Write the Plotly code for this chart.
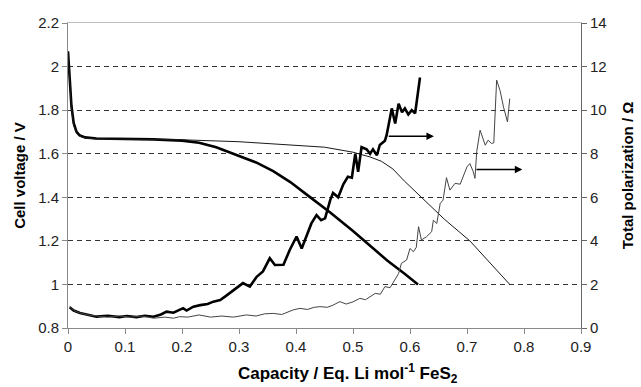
import plotly.graph_objects as go

# Discharge curves: cell voltage (V) vs capacity (Eq. Li / mol FeS2)
cap_v_thick = [0.0, 0.003, 0.006, 0.01, 0.015, 0.02, 0.03, 0.05, 0.1, 0.15, 0.2, 0.23, 0.26,
               0.29, 0.33, 0.36, 0.39, 0.42, 0.46, 0.5, 0.52, 0.56, 0.59, 0.614]
volt_thick = [2.07, 1.95, 1.82, 1.74, 1.70, 1.685, 1.675, 1.67, 1.668, 1.666, 1.66, 1.65, 1.63,
              1.60, 1.56, 1.52, 1.47, 1.41, 1.33, 1.245, 1.2, 1.11, 1.05, 1.0]

cap_v_thin = [0.0, 0.003, 0.006, 0.01, 0.015, 0.02, 0.03, 0.05, 0.1, 0.2, 0.3, 0.4, 0.45, 0.5,
              0.53, 0.55, 0.57, 0.59, 0.62, 0.66, 0.705, 0.74, 0.775]
volt_thin = [2.06, 1.94, 1.81, 1.73, 1.695, 1.68, 1.672, 1.668, 1.667, 1.664, 1.655, 1.64, 1.63,
             1.607, 1.585, 1.565, 1.53, 1.475, 1.40, 1.30, 1.2, 1.1, 1.0]

# Total polarization (Ohm) vs capacity
cap_r_thick = [0.003, 0.01, 0.021, 0.035, 0.05, 0.07, 0.09, 0.103, 0.12, 0.135, 0.15, 0.163,
               0.173, 0.185, 0.202, 0.208, 0.22, 0.232, 0.245, 0.255, 0.267, 0.276, 0.287,
               0.297, 0.307, 0.319, 0.331, 0.342, 0.354, 0.363, 0.378, 0.389, 0.401, 0.41,
               0.421, 0.427, 0.436, 0.444, 0.451, 0.46, 0.465, 0.474, 0.483, 0.491, 0.498,
               0.504, 0.509, 0.515, 0.524, 0.53, 0.535, 0.542, 0.547, 0.556, 0.559, 0.568,
               0.574, 0.58, 0.586, 0.591, 0.597, 0.603, 0.609, 0.612, 0.6175]
pol_thick = [0.95, 0.8, 0.69, 0.6, 0.52, 0.56, 0.5, 0.55, 0.5, 0.56, 0.52, 0.62,
             0.75, 0.7, 0.91, 0.8, 0.98, 1.05, 1.1, 1.21, 1.28, 1.45, 1.67,
             1.85, 2.06, 1.9, 2.35, 2.6, 3.2, 2.89, 2.9, 3.58, 4.2, 3.65,
             4.42, 4.8, 5.18, 4.95, 5.03, 5.87, 6.2, 6.0, 6.6, 6.94, 6.9,
             8.0, 7.17, 8.3, 8.2, 8.0, 8.2, 7.93, 8.4, 8.6, 8.85, 10.08,
             9.39, 10.3, 9.9, 10.08, 9.8, 10.0, 9.85, 10.5, 11.5]

cap_r_thin = [0.003, 0.01, 0.02, 0.035, 0.05, 0.07, 0.09, 0.11, 0.13, 0.15, 0.17, 0.185,
              0.196, 0.21, 0.23, 0.25, 0.27, 0.29, 0.313, 0.33, 0.345, 0.36, 0.375, 0.395,
              0.407, 0.42, 0.432, 0.442, 0.455, 0.465, 0.477, 0.488, 0.5, 0.512, 0.522,
              0.53, 0.539, 0.548, 0.556, 0.565, 0.571, 0.58, 0.585, 0.594, 0.6, 0.606,
              0.611, 0.615, 0.62, 0.629, 0.638, 0.641, 0.647, 0.653, 0.658, 0.664, 0.67,
              0.679, 0.688, 0.694, 0.7, 0.705, 0.711, 0.714, 0.717, 0.723, 0.732, 0.737,
              0.743, 0.747, 0.752, 0.758, 0.764, 0.771, 0.775]
pol_thin = [1.0, 0.8, 0.7, 0.6, 0.55, 0.5, 0.55, 0.5, 0.55, 0.45, 0.5, 0.45,
            0.52, 0.5, 0.6, 0.5, 0.55, 0.5, 0.6, 0.55, 0.65, 0.67, 0.62, 0.83,
            0.9, 0.85, 0.95, 0.98, 0.95, 1.05, 1.21, 1.1, 1.2, 1.36, 1.3,
            1.44, 1.59, 1.55, 1.9, 1.85, 2.12, 2.5, 2.97, 3.12, 3.65, 3.5,
            3.7, 4.65, 4.04, 4.19, 4.42, 4.95, 4.8, 5.72, 5.87, 6.9, 6.33,
            6.64, 6.6, 7.0, 7.4, 7.55, 7.17, 6.87, 8.09, 9.08, 8.39, 8.62,
            8.47, 8.5, 11.38, 10.9, 10.15, 9.46, 10.53]

# Axis ticks
x_ticks = [0, 0.1, 0.2, 0.3, 0.4, 0.5, 0.6, 0.7, 0.8, 0.9]
x_tick_text = ["0", "0.1", "0.2", "0.3", "0.4", "0.5", "0.6", "0.7", "0.8", "0.9"]
v_ticks = [0.8, 1.0, 1.2, 1.4, 1.6, 1.8, 2.0, 2.2]
v_tick_text = ["0.8", "1", "1.2", "1.4", "1.6", "1.8", "2", "2.2"]
v_grid = [1.0, 1.2, 1.4, 1.6, 1.8, 2.0]
r_ticks = [0, 2, 4, 6, 8, 10, 12, 14]

# Arrows pointing the polarization curves to the right-hand axis: (x0, x1, y)
arrow_thick = (0.56, 0.642, 8.8)
arrow_thin = (0.714, 0.797, 7.28)

X_TITLE = "<b>Capacity / Eq. Li mol<sup>-1</sup> FeS<sub>2</sub></b>"

FONT = "Liberation Sans, Arial, sans-serif"
AXIS_GRAY = "#8a8a8a"
TICK_SIZE = 15

fig = go.Figure()
fig.add_trace(go.Scatter(x=cap_v_thick, y=volt_thick, mode="lines",
                         line=dict(color="#000000", width=2.6)))
fig.add_trace(go.Scatter(x=cap_v_thin, y=volt_thin, mode="lines",
                         line=dict(color="#1a1a1a", width=1)))
fig.add_trace(go.Scatter(x=cap_r_thick, y=pol_thick, mode="lines", yaxis="y2",
                         line=dict(color="#000000", width=2.6)))
fig.add_trace(go.Scatter(x=cap_r_thin, y=pol_thin, mode="lines", yaxis="y2",
                         line=dict(color="#444444", width=1)))

for x0, x1, yv in (arrow_thick, arrow_thin):
    fig.add_annotation(x=x1, y=yv, ax=x0, ay=yv, xref="x", yref="y2", axref="x", ayref="y2",
                       text="", showarrow=True, arrowhead=2, arrowsize=1.0, arrowwidth=1.5,
                       arrowcolor="#000000")

# Horizontal axis title, set a little right of the plot centre
fig.add_annotation(text=X_TITLE, xref="paper", yref="paper", x=0.545, y=-0.15,
                   xanchor="center", yanchor="middle", showarrow=False,
                   font=dict(size=17, color="#000000", family=FONT))

fig.update_layout(
    width=641, height=387,
    margin=dict(l=68, r=60, t=23, b=59, autoexpand=False),
    paper_bgcolor="white", plot_bgcolor="white",
    showlegend=False,
    font=dict(family=FONT, size=TICK_SIZE, color="#222222"),
    xaxis=dict(
        range=[0, 0.9], tickvals=x_ticks, ticktext=x_tick_text,
        showgrid=False, zeroline=False, automargin=False,
        showline=True, linecolor=AXIS_GRAY, linewidth=1,
        ticks="outside", ticklen=5, tickcolor=AXIS_GRAY,
        tickfont=dict(size=TICK_SIZE, color="#222222"),
    ),
    xaxis2=dict(
        overlaying="x", side="top", range=[0, 0.9], showgrid=False, zeroline=False,
        automargin=False,
        showline=True, linecolor="#bdbdbd", linewidth=1, showticklabels=False, ticks="",
    ),
    yaxis=dict(
        range=[0.8, 2.2], tickvals=v_ticks, ticktext=v_tick_text,
        showgrid=False, zeroline=False, automargin=False,
        showline=True, linecolor=AXIS_GRAY, linewidth=1,
        ticks="outside", ticklen=5, tickcolor=AXIS_GRAY,
        tickfont=dict(size=TICK_SIZE, color="#222222"),
        minor=dict(tickvals=v_grid, showgrid=True, gridcolor="#333333", gridwidth=1,
                   griddash="5px,4px", ticks=""),
        title=dict(text="<b>Cell voltage / V</b>",
                   font=dict(size=15, color="#000000"), standoff=8),
    ),
    yaxis2=dict(
        overlaying="y", side="right", range=[0, 14], tickvals=r_ticks,
        showgrid=False, zeroline=False, automargin=False,
        showline=True, linecolor="#666666", linewidth=1,
        ticks="outside", ticklen=5, tickcolor="#666666",
        tickfont=dict(size=TICK_SIZE, color="#222222"),
        title=dict(text="<b>Total polarization / Ω</b>",
                   font=dict(size=15, color="#000000"), standoff=16),
    ),
)

# Empty trace on the top overlay axis so the frame line at the top is rendered
fig.add_trace(go.Scatter(x=[], y=[], xaxis="x2", showlegend=False))

fig.write_html("out.html")
